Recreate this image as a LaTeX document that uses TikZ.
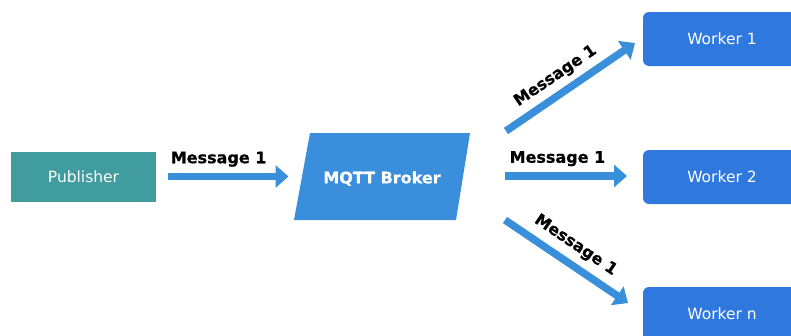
\documentclass[tikz,border=0pt]{standalone}
\usepackage{fontspec}
\setmainfont{DejaVu Sans}
\newfontfamily\heavyfont{DejaVu Sans Bold}[FakeBold=0.6]
\usetikzlibrary{arrows.meta}
\definecolor{teal1}{HTML}{419C9F}
\definecolor{brokerblue}{HTML}{3A8EDB}
\definecolor{arrowblue}{HTML}{3A8FDB}
\definecolor{workerblue}{HTML}{2E78DE}
\tikzset{
  arr/.style={draw=arrowblue, line width=7.5pt, -{Triangle[length=13pt,width=22pt]}},
  lbl/.style={font=\fontsize{16}{19}\heavyfont, text=black, inner sep=0pt, text depth=0pt},
  worker/.style={fill=workerblue, rounded corners=6pt, minimum width=158pt, minimum height=54pt, text=white, font=\fontsize{15.5}{18}\selectfont, inner sep=0pt},
}
\begin{document}
\begin{tikzpicture}[x=1pt,y=-1pt]
\useasboundingbox (0,0) rectangle (791,335);
\clip (0,0) rectangle (791,335);
% publisher
\node[fill=teal1, minimum width=145pt, minimum height=50pt, inner sep=0pt, text=white, font=\fontsize{15.5}{18}\selectfont] (pub) at (83.5,177) {\raisebox{-1pt}{Publisher}};
% broker
\fill[brokerblue] (310,133) -- (470,133) -- (456,220) -- (294,220) -- cycle;
\node[text=white, font=\fontsize{16}{19}\heavyfont, inner sep=0pt] (broker) at (382,178.5) {MQTT Broker};
% workers
\node[worker] (w1) at (722,39) {\raisebox{-1.5pt}{Worker 1}};
\node[worker] (w2) at (722,177) {\raisebox{-0.5pt}{Worker 2}};
\node[worker] (wn) at (722,314) {\raisebox{-1pt}{Worker n}};
% arrow endpoints
\coordinate (a1s) at (168,176.5);
\coordinate (a1e) at (288.5,176.5);
\coordinate (b1s) at (506,131);
\coordinate (b1e) at (635,43);
\coordinate (b2s) at (505,176);
\coordinate (b2e) at (627,176);
\coordinate (b3s) at (505,220);
\coordinate (b3e) at (628,303);
% arrows
\draw[arr] (a1s) -- node[lbl, pos=0.42, above=9.5pt] {Message 1} (a1e);
\draw[arr] (b1s) -- node[lbl, pos=0.46, sloped, above=9.5pt] {Message 1} (b1e);
\draw[arr] (b2s) -- node[lbl, pos=0.43, above=9.5pt] {Message 1} (b2e);
\draw[arr] (b3s) -- node[lbl, pos=0.49, sloped, above=10.5pt] {Message 1} (b3e);
\end{tikzpicture}
\end{document}
